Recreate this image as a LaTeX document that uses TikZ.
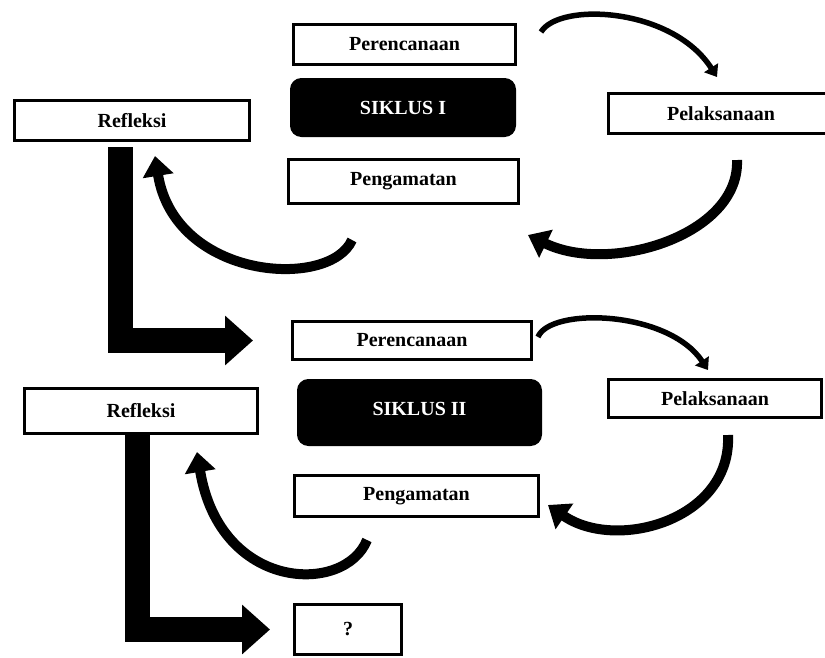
\documentclass[tikz,border=0pt]{standalone}
\usepackage{fontspec}
\setmainfont{Liberation Serif}
\usetikzlibrary{arrows.meta}
\begin{document}
\begin{tikzpicture}[x=1pt,y=-1pt,
    box/.style={draw,line width=3pt,fill=white,inner sep=0pt,font=\bfseries\fontsize{20}{24}\selectfont},
    siklus/.style={box,fill=black,text=white,rounded corners=10pt},
    thin/.style={line width=5.5pt,-{Triangle[length=11pt,width=16pt]}},
    cyc/.style={line width=10pt,-{Triangle[length=20pt,width=30pt]}},
    bigarrow/.style={line width=25pt,-{Triangle[length=28pt,width=48pt]}}]
\useasboundingbox (0,0) rectangle (825,657);
% siklus I
\node[box,minimum width=222pt,minimum height=40pt] (P1) at (404.5,44.5) {Perencanaan};
\node[siklus,minimum width=223pt,minimum height=56pt] (S1) at (403,107.5) {SIKLUS I};
\node[box,minimum width=230pt,minimum height=44pt] (G1) at (403.5,181.5) {Pengamatan};
\node[box,minimum width=235pt,minimum height=40pt] (R1) at (132,120.5) {Refleksi};
\node[box,minimum width=225pt,minimum height=40pt] (L1) at (721,113.5) {Pelaksanaan};
% siklus II
\node[box,minimum width=239pt,minimum height=38pt] (P2) at (412,340.5) {Perencanaan};
\node[siklus,minimum width=242pt,minimum height=64pt,text depth=8pt] (S2) at (419.5,412.5) {SIKLUS II};
\node[box,minimum width=244pt,minimum height=41pt] (G2) at (416.5,496) {Pengamatan};
\node[box,minimum width=233pt,minimum height=45pt] (R2) at (141,411) {Refleksi};
\node[box,minimum width=213pt,minimum height=38pt] (L2) at (715,398.5) {Pelaksanaan};
\node[box,minimum width=107pt,minimum height=50pt] (Q) at (348,629.5) {?};
% putaran siklus I
\draw[thin] ([shift={(24,-12.5)}]P1.east) .. controls +(18,-30) and +(-45,-70) .. ([shift={(-4,-15)}]L1.north);
\draw[cyc] ([shift={(16,25)}]L1.south) .. controls +(3,75) and +(82,40) .. ([shift={(8,30)}]G1.south east);
\draw[cyc] ([shift={(-51.5,35)}]G1.south) .. controls +(-22,50) and +(20,124) .. ([shift={(23,14)}]R1.south);
% putaran siklus II
\draw[thin] ([shift={(5,-3.5)}]P2.east) .. controls +(12,-30) and +(-40,-60) .. ([shift={(-7,-8)}]L2.north);
\draw[cyc] ([shift={(13,16)}]L2.south) .. controls +(4,85) and +(68,47) .. ([shift={(8,9)}]G2.east);
\draw[cyc] ([shift={(-49.5,22)}]G2.south) .. controls +(-22,55) and +(23,140) .. ([shift={(56,17)}]R2.south);
% ke siklus berikutnya
\draw[bigarrow,shorten >=38pt] ([shift={(-11.5,5)}]R1.south) |- (P2.west);
\draw[bigarrow,shorten >=23pt] ([xshift=-3.5pt]R2.south) |- (Q.west);
\end{tikzpicture}
\end{document}
